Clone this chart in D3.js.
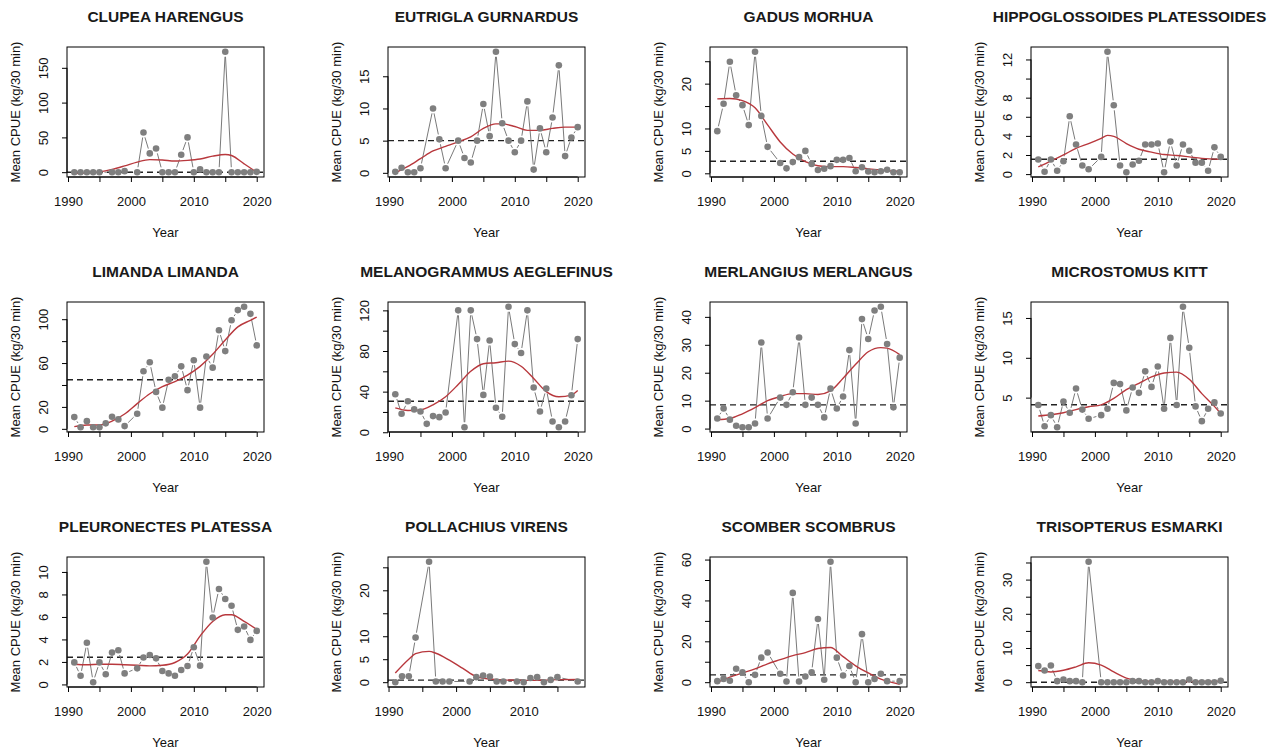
<!DOCTYPE html>
<html>
<head>
<meta charset="utf-8">
<title>Mean CPUE by species</title>
<script src="https://cdn.jsdelivr.net/npm/d3@7"></script>
<style>
  body { margin: 0; background: #fff; }
  svg text { font-family: "Liberation Sans", Arial, sans-serif; fill: #111; }
  .title { font-weight: bold; font-size: 15.5px; fill: #1a1a1a; }
</style>
</head>
<body>
<script>
// survey years, 1991..2020 (null = no survey that year)
var firstYear = 1991;

var species = [
    "CLUPEA HARENGUS", "EUTRIGLA GURNARDUS", "GADUS MORHUA", "HIPPOGLOSSOIDES PLATESSOIDES",
    "LIMANDA LIMANDA", "MELANOGRAMMUS AEGLEFINUS", "MERLANGIUS MERLANGUS", "MICROSTOMUS KITT",
    "PLEURONECTES PLATESSA", "POLLACHIUS VIRENS", "SCOMBER SCOMBRUS", "TRISOPTERUS ESMARKI"
];

// mean CPUE (kg/30 min) per year
var cpue = [
    [0,0,0,0,0,null,0,0,1.5,null,0,57,27,34,0,0,0,25,50,0,4,0,0,0,173,0,0,0,0,0.5],
    [0.15,0.8,0.1,0.1,0.7,null,10.0,5.2,0.7,null,5.0,2.3,1.6,5.0,10.7,5.7,18.8,7.7,5.0,3.2,5.0,11.1,0.5,6.9,3.2,8.6,16.7,2.6,5.5,7.1],
    [9.4,15.5,24.9,17.4,15.2,10.75,27.1,12.8,5.9,null,2.3,1.1,2.5,3.6,5.0,2.1,0.75,1.0,1.6,3.0,3.0,3.4,0.45,1.35,0.4,0.25,0.45,0.8,0.25,0.25],
    [1.53,0.25,1.53,0.35,1.35,6.05,3.1,0.9,0.5,null,1.8,12.8,7.2,0.9,0.2,1.0,1.4,3.1,3.1,3.2,0.2,3.4,0.9,3.1,2.45,1.2,1.2,0.35,2.8,1.8],
    [10.7,1.5,7,1.5,1.5,5,11,8.6,2.5,null,13.8,52.5,60.7,33.7,19.3,44.8,47.9,57,35.3,62.6,19.3,66,55.8,89.9,70.9,99,108.3,111.3,104.9,76.1],
    [37.4,18.2,30.5,22.5,20.5,8.3,15.9,14.9,19.5,null,120,5,120,91.7,36.8,90.4,24.2,15.2,123.5,86.8,78.1,120,44,20.5,43,10.6,5,10.6,36.4,91.7],
    [3.6,7.2,3.2,1.0,0.5,0.5,1.8,30.8,3.6,null,11.1,8.5,13,32.6,8.5,11.1,8.5,4.0,14.3,7.2,11.5,28.1,1.8,39.2,32.1,42.3,43.6,30.3,7.6,25.4],
    [4.07,1.4,2.8,1.29,4.5,3.1,6.14,3.5,2.35,null,2.8,3.6,6.85,6.7,3.4,6.27,5.6,8.3,6.35,8.9,3.6,12.5,4.07,16.4,11.25,3.9,2.05,3.6,4.4,3.0],
    [1.96,0.77,3.7,0.2,1.96,0.9,2.83,3.04,0.98,null,1.43,2.4,2.62,2.32,1.2,0.98,0.77,1.28,1.64,3.3,1.67,10.9,5.95,8.48,7.6,7.0,4.85,5.15,3.96,4.76],
    [0,1.3,1.3,9.7,null,26.2,0.15,0.15,0.15,null,null,0.15,1.1,1.45,1.25,0.15,0.15,null,0.15,0,0.9,1.1,0,0.5,1.1,null,null,0.15,null,null],
    [0.5,1.6,0.7,6.6,4.8,0,3.6,12,14.5,null,4.1,0.3,43.7,0.3,2.8,4.8,30.9,1.2,58.9,12,3.3,7.9,0,23.5,0,1.6,4.1,0.5,null,0.5],
    [4.7,3.4,4.9,0.3,0.8,0.3,0.3,0,35.2,null,0,0,0,0,0,0.3,0.3,0,0,0.3,0,0,0,0,0.8,0,0,0,0,0.4]
];

// red smoother, [year, value] read at a few years
var smooth = [
    [[1991,-2],[1993,-1],[1995,0.5],[1997,4],[1999,9],[2001,14.5],[2003,18],[2005,17.5],[2007,16],[2009,17],[2011,19],[2013,23],[2015,25.5],[2016,24],[2018,12],[2020,0]],
    [[1991,0],[1993,1],[1995,2.2],[1997,3.4],[1999,4.1],[2001,4.8],[2003,5.6],[2005,6.9],[2007,7.6],[2008,7.6],[2010,7.2],[2012,6.6],[2014,6.6],[2016,6.9],[2018,7.1],[2020,7.1]],
    [[1991,16.6],[1993,16.7],[1995,16.2],[1997,14.6],[1999,10.8],[2001,7.0],[2003,4.3],[2005,2.6],[2007,1.7],[2009,1.5],[2011,1.5],[2013,1.3],[2015,1.0],[2017,0.75],[2019,0.5],[2020,0.4]],
    [[1991,0.75],[1993,1.35],[1995,2.0],[1997,2.7],[1999,3.2],[2001,3.75],[2002,4.05],[2003,3.95],[2005,3.2],[2007,2.6],[2009,2.3],[2011,2.05],[2013,1.95],[2015,1.8],[2017,1.65],[2020,1.55]],
    [[1991,2],[1993,3.5],[1995,3.5],[1997,7],[1999,13.5],[2001,23],[2003,32],[2005,38.5],[2007,43],[2009,49],[2011,57],[2013,68],[2015,81],[2017,93],[2019,99],[2020,102]],
    [[1991,24],[1993,21.5],[1995,22],[1997,27],[1999,35],[2001,47],[2003,60],[2005,67.5],[2007,68.5],[2009,70],[2011,65],[2013,53],[2015,40],[2017,35],[2019,36.5],[2020,41]],
    [[1991,3.2],[1993,3.6],[1995,5.3],[1997,7.5],[1999,10],[2001,11.5],[2003,12.5],[2005,12.5],[2007,12.2],[2009,13.5],[2011,18],[2013,23],[2015,27.5],[2017,29],[2018,28.8],[2020,26.5]],
    [[1991,2.7],[1993,2.85],[1995,3.1],[1997,3.5],[1999,3.85],[2001,4.1],[2003,4.9],[2005,6.0],[2007,6.8],[2009,7.6],[2011,8.1],[2013,8.2],[2015,7.3],[2017,5.5],[2019,3.9],[2020,3.0]],
    [[1991,1.8],[1993,1.75],[1995,1.8],[1997,1.8],[1999,1.75],[2001,1.7],[2003,1.65],[2005,1.7],[2007,1.95],[2009,2.7],[2011,4.3],[2013,5.6],[2015,6.2],[2016,6.2],[2018,5.6],[2020,4.9]],
    [[1991,2],[1993,5],[1994,6.2],[1996,6.7],[1997,6.3],[1999,4.8],[2001,3.0],[2003,1.2],[2005,0.7],[2007,0.5],[2010,0.4],[2013,0.45],[2015,0.55],[2018,0.6]],
    [[1991,0],[1993,2.5],[1995,4.5],[1997,6.5],[1999,9],[2001,11],[2003,13],[2005,14.5],[2007,16.5],[2009,17],[2011,12.5],[2013,8],[2015,4.5],[2017,1.5],[2020,-1]],
    [[1991,3.4],[1993,3.0],[1995,3.5],[1997,4.5],[1999,5.7],[2001,5.0],[2003,3.0],[2005,1.2],[2007,0.4],[2010,0.2],[2015,0.2],[2020,0.3]]
];

// dashed reference level
var refLine = [0, 5.0, 2.7, 1.55, 44.8, 30.5, 8.5, 4.1, 2.41, 0.45, 3.6, 0];

var yTicks = [
    [0,50,100,150], [0,5,10,15], [0,5,10,15,20,25], [0,2,4,6,8,10,12],
    [0,20,40,60,80,100], [0,20,40,60,80,100,120], [0,10,20,30,40], [5,10,15],
    [0,2,4,6,8,10], [0,5,10,15,20,25], [0,10,20,30,40,50,60], [0,5,10,15,20,25,30,35]
];
var yTickLabels = [
    [0,50,100,150], [0,5,10,15], [0,5,10,20], [0,2,4,6,8,12],
    [0,20,60,100], [0,40,80,120], [0,10,20,30,40], [5,10,15],
    [0,2,4,6,8,10], [0,5,10,20], [0,20,40,60], [0,10,20,30]
];
var xTicks = [1990, 1995, 2000, 2005, 2010, 2015, 2020];
var xTickLabels = [1990, 2000, 2010, 2020];

var w = 1280, h = 751;
var colLeft = [67, 388, 710, 1031];
var rowTop = [47, 302, 557];
var pw = 197, ph = 130;
var gap = 5;   // type="b" gap round each point

var svg = d3.select("body").append("svg")
        .attr("width", w)
        .attr("height", h);

species.forEach(function(name, k) {
    var left = colLeft[k % 4], top = rowTop[Math.floor(k / 4)];

    var pts = cpue[k].map(function(v, i) {
        return {year: firstYear + i, v: v};
    }).filter(function(d) { return d.v !== null; });

    var xe = d3.extent(pts, function(d) { return d.year; });
    var ye = d3.extent(pts, function(d) { return d.v; });
    var xp = (xe[1] - xe[0]) * 0.04, yp = (ye[1] - ye[0]) * 0.04;
    var x = d3.scaleLinear().domain([xe[0] - xp, xe[1] + xp]).range([0, pw]);
    var y = d3.scaleLinear().domain([ye[0] - yp, ye[1] + yp]).range([ph, 0]);

    var g = svg.append("g").attr("transform", "translate(" + left + "," + top + ")");

    g.append("clipPath").attr("id", "clip" + k)
        .append("rect").attr("width", pw).attr("height", ph);

    // title
    g.append("text").attr("class", "title")
        .attr("x", pw / 2).attr("y", -30).attr("dy", "0.35em")
        .attr("text-anchor", "middle")
        .text(name);

    // x axis
    var xt = xTicks.filter(function(t) { return t >= x.domain()[0] && t <= x.domain()[1]; });
    var xa = g.append("g").attr("transform", "translate(0," + ph + ")")
        .call(d3.axisBottom(x).tickValues(xt).tickSize(5).tickSizeOuter(0).tickPadding(15)
            .tickFormat(function(d) { return xTickLabels.indexOf(d) >= 0 ? d : ""; }));
    xa.select(".domain").remove();
    xa.append("line").attr("x1", x(xt[0])).attr("x2", x(xt[xt.length - 1]))
        .attr("stroke", "#000");
    xa.selectAll("text").attr("font-size", 13).attr("font-family", null).attr("fill", "#111");

    // y axis, labels parallel to the axis
    var ya = g.append("g")
        .call(d3.axisLeft(y).tickValues(yTicks[k]).tickSize(5).tickSizeOuter(0)
            .tickFormat(function(d) { return yTickLabels[k].indexOf(d) >= 0 ? d : ""; }));
    ya.select(".domain").remove();
    ya.append("line").attr("y1", y(yTicks[k][0])).attr("y2", y(yTicks[k][yTicks[k].length - 1]))
        .attr("stroke", "#000");
    ya.selectAll("text")
        .attr("x", null).attr("dy", "0.35em")
        .attr("transform", "translate(-24,0) rotate(-90)")
        .attr("text-anchor", "middle")
        .attr("font-size", 13).attr("fill", "#111");
    ya.attr("font-family", null).attr("font-size", null);
    xa.attr("font-family", null).attr("font-size", null);

    // axis titles
    g.append("text")
        .attr("transform", "translate(-52," + (ph / 2) + ") rotate(-90)")
        .attr("dy", "0.35em").attr("text-anchor", "middle")
        .attr("font-size", 13)
        .text("Mean CPUE (kg/30 min)");
    g.append("text")
        .attr("x", pw / 2).attr("y", ph + 55).attr("dy", "0.35em")
        .attr("text-anchor", "middle")
        .attr("font-size", 13)
        .text("Year");

    var inner = g.append("g").attr("clip-path", "url(#clip" + k + ")");

    // dashed reference
    inner.append("line")
        .attr("x1", 0).attr("x2", pw)
        .attr("y1", y(refLine[k])).attr("y2", y(refLine[k]))
        .attr("stroke", "#222").attr("stroke-width", 1.4)
        .attr("stroke-dasharray", "6,4");

    // grey connecting segments with gaps at the points
    var segs = [];
    for (var i = 1; i < pts.length; i++) {
        var x0 = x(pts[i - 1].year), y0 = y(pts[i - 1].v);
        var x1 = x(pts[i].year), y1 = y(pts[i].v);
        var dx = x1 - x0, dy = y1 - y0, len = Math.sqrt(dx * dx + dy * dy);
        if (len > 2 * gap) {
            segs.push([x0 + dx / len * gap, y0 + dy / len * gap, x1 - dx / len * gap, y1 - dy / len * gap]);
        }
    }
    inner.selectAll("line.seg")
        .data(segs)
        .enter()
        .append("line")
        .attr("class", "seg")
        .attr("x1", function(d) { return d[0]; })
        .attr("y1", function(d) { return d[1]; })
        .attr("x2", function(d) { return d[2]; })
        .attr("y2", function(d) { return d[3]; })
        .attr("stroke", "#7a7a7a")
        .attr("stroke-width", 1);

    // smoother
    inner.append("path")
        .datum(smooth[k])
        .attr("fill", "none")
        .attr("stroke", "#b8383d")
        .attr("stroke-width", 1.4)
        .attr("d", d3.line()
            .x(function(d) { return x(d[0]); })
            .y(function(d) { return y(d[1]); })
            .curve(d3.curveMonotoneX));

    // points
    g.selectAll("circle")
        .data(pts)
        .enter()
        .append("circle")
        .attr("cx", function(d) { return x(d.year); })
        .attr("cy", function(d) { return y(d.v); })
        .attr("r", 3.3)
        .attr("fill", "#7f7f7f");

    // box
    g.append("rect")
        .attr("width", pw).attr("height", ph)
        .attr("fill", "none").attr("stroke", "#000");
});
</script>
</body>
</html>
